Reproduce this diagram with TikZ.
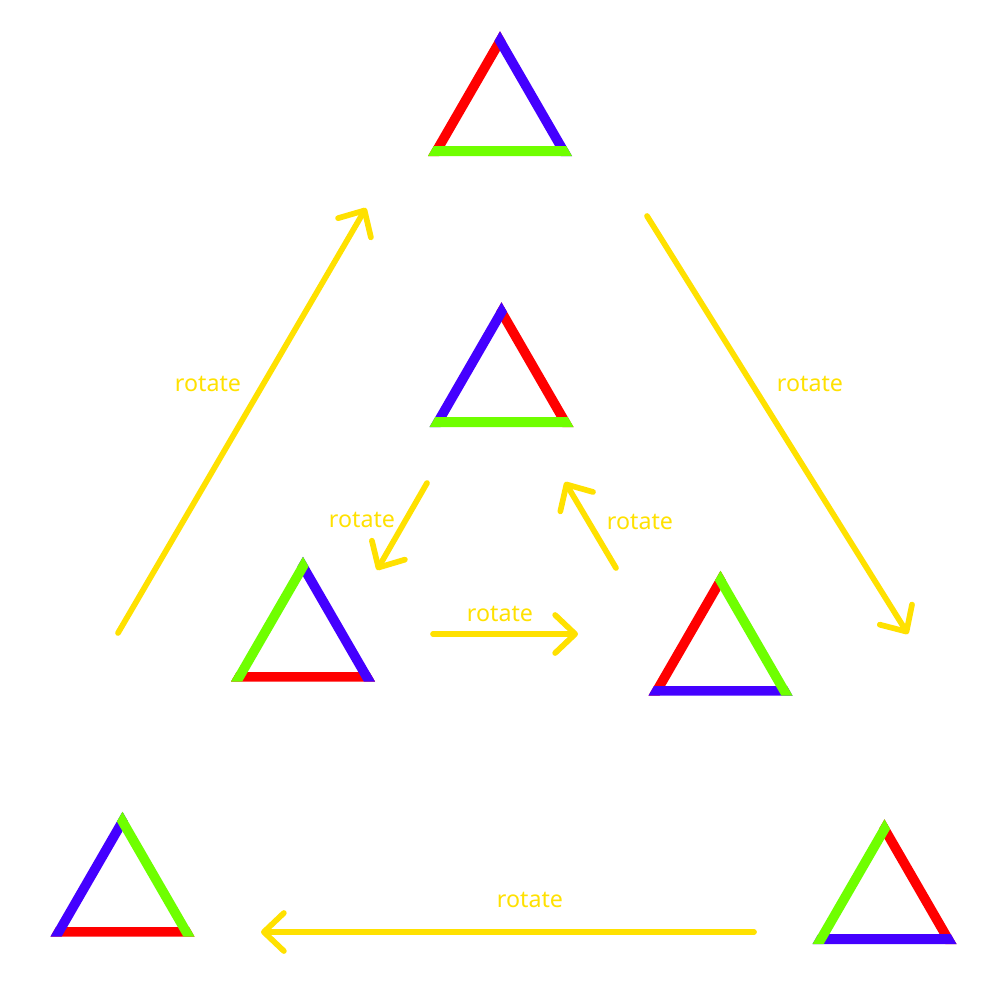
\documentclass[tikz,border=0pt]{standalone}
\usepackage{fontspec}
\setmainfont{Noto Sans}
\usetikzlibrary{calc,arrows.meta}
\definecolor{tred}{HTML}{FF0000}
\definecolor{tblue}{HTML}{4400FF}
\definecolor{tgreen}{HTML}{6FFF00}
\definecolor{ayel}{HTML}{FFE100}
\newcommand\mkTri[3]{%
  \coordinate (#1L) at (#2,#3);
  \coordinate (#1R) at ($(#2,#3)+(144,0)$);
  \coordinate (#1A) at ($(#2,#3)+(72,-124.7)$);
}
\tikzset{
  edge/.style={line width=0.194cm, line cap=butt, shorten <=-0.3cm, shorten >=-0.3cm},
  rotarrow/.style={draw=ayel, line width=0.057cm, line cap=round,
    -{Straight Barb[length=0.2cm, width=0.38cm, round]}},
  rotlabel/.style={text=ayel, font=\fontsize{6.6}{8}\selectfont, inner sep=0pt}
}
\begin{document}
\begin{tikzpicture}[x=0.01cm, y=-0.01cm]
\useasboundingbox[fill=white] (0,0) rectangle (1000,1000);

% triangles
\mkTri{ta}{428}{156}
\mkTri{tb}{429.5}{427}
\mkTri{tc}{231}{681.5}
\mkTri{td}{648.5}{695.5}
\mkTri{te}{50.5}{936.5}
\mkTri{tf}{812.5}{944}

% top: left red, right blue, base green
\begin{scope}
\clip (taA)--(taL)--(taR)--cycle;
\draw[edge, tred] (taA)--(taL);
\draw[edge, tblue] (taA)--(taR);
\draw[edge, tgreen] (taL)--(taR);
\end{scope}
% center: left blue, right red, base green
\begin{scope}
\clip (tbA)--(tbL)--(tbR)--cycle;
\draw[edge, tred] (tbA)--(tbR);
\draw[edge, tblue] (tbA)--(tbL);
\draw[edge, tgreen] (tbL)--(tbR);
\end{scope}
% left middle: left green, right blue, base red
\begin{scope}
\clip (tcA)--(tcL)--(tcR)--cycle;
\draw[edge, tred] (tcL)--(tcR);
\draw[edge, tblue] (tcA)--(tcR);
\draw[edge, tgreen] (tcA)--(tcL);
\end{scope}
% right middle: left red, right green, base blue
\begin{scope}
\clip (tdA)--(tdL)--(tdR)--cycle;
\draw[edge, tred] (tdA)--(tdL);
\draw[edge, tblue] (tdL)--(tdR);
\draw[edge, tgreen] (tdA)--(tdR);
\end{scope}
% bottom left: left blue, right green, base red
\begin{scope}
\clip (teA)--(teL)--(teR)--cycle;
\draw[edge, tred] (teL)--(teR);
\draw[edge, tblue] (teA)--(teL);
\draw[edge, tgreen] (teA)--(teR);
\end{scope}
% bottom right: left green, right red, base blue
\begin{scope}
\clip (tfA)--(tfL)--(tfR)--cycle;
\draw[edge, tred] (tfA)--(tfR);
\draw[edge, tblue] (tfL)--(tfR);
\draw[edge, tgreen] (tfA)--(tfL);
\end{scope}

% arrow end points
\coordinate (a1) at (118,633);  \coordinate (a2) at (366,208);
\coordinate (b1) at (647,216);  \coordinate (b2) at (908,634);
\coordinate (c1) at (754,932);  \coordinate (c2) at (261,932);
\coordinate (d1) at (427,483);  \coordinate (d2) at (377,570);
\coordinate (e1) at (616,568);  \coordinate (e2) at (565,482);
\coordinate (f1) at (433,634);  \coordinate (f2) at (578,634);

\draw[rotarrow] (a1) -- (a2);
\draw[rotarrow] (b1) -- (b2);
\draw[rotarrow] (c1) -- (c2);
\draw[rotarrow] (d1) -- (d2);
\draw[rotarrow] (e1) -- (e2);
\draw[rotarrow] (f1) -- (f2);

% labels
\node[rotlabel] (la) at (208,384) {rotate};
\node[rotlabel] (lb) at (810,384) {rotate};
\node[rotlabel] (lc) at (530,900) {rotate};
\node[rotlabel] (ld) at (362,520) {rotate};
\node[rotlabel] (le) at (640,522) {rotate};
\node[rotlabel] (lf) at (500,614) {rotate};
\end{tikzpicture}
\end{document}
